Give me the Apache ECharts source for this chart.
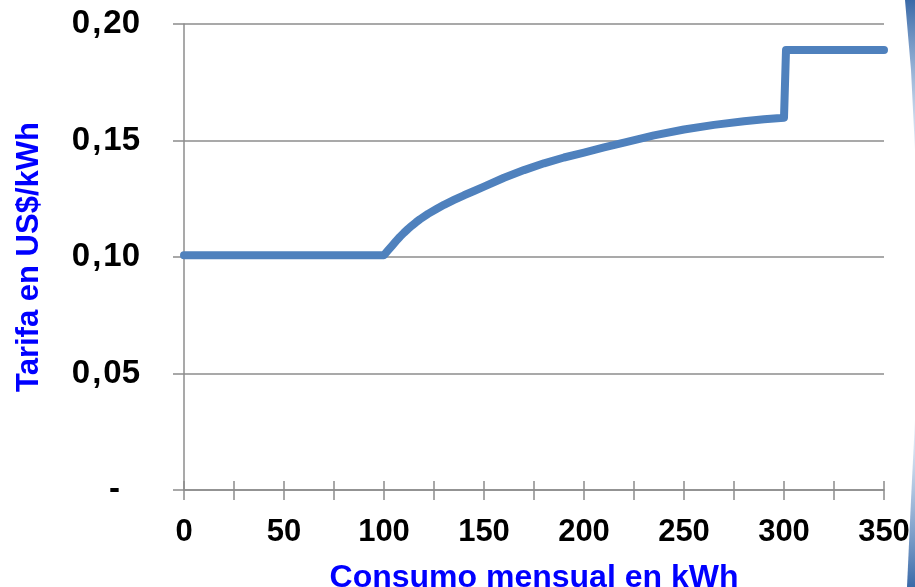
<!DOCTYPE html>
<html>
<head>
<meta charset="utf-8">
<script src="https://cdn.jsdelivr.net/npm/echarts@6/dist/echarts.min.js"></script>
<style>html,body{margin:0;padding:0;background:#fff}#c{width:915px;height:587px}</style>
</head>
<body>
<div id="c"></div>
<script>
// Data
const consumoKWh = [0, 100, 102, 104, 106, 108, 110, 112, 114, 116, 118, 122, 126, 130, 135, 140, 145, 150, 160, 170, 180, 190, 200, 210, 220, 235, 250, 265, 280, 290, 300, 301, 350];
const tarifaUSD  = [0.1008, 0.1008, 0.1028, 0.1048, 0.1068, 0.1087, 0.1104, 0.1120, 0.1135, 0.1149, 0.1162, 0.1185, 0.1205, 0.1224, 0.1245, 0.1265, 0.1283, 0.1302, 0.1340, 0.1373, 0.1402, 0.1427, 0.1448, 0.1470, 0.1491, 0.1522, 0.1547, 0.1567, 0.1583, 0.1591, 0.1598, 0.1888, 0.1888];
const xTitle = 'Consumo mensual en kWh';
const yTitle = 'Tarifa en US$/kWh';

const FONT = '"Liberation Sans", Arial, sans-serif';
const gridColor = '#8c8c8c';

const chart = echarts.init(document.getElementById('c'));
chart.setOption({
  animation: false,
  backgroundColor: '#ffffff',
  grid: { left: 184, right: 31, top: 24, bottom: 97, containLabel: false, outerBoundsMode: 'none' },
  xAxis: [{
    type: 'value', min: 0, max: 350, interval: 25,
    name: xTitle, nameLocation: 'middle', nameGap: 72,
    nameTextStyle: { color: '#0000ff', fontSize: 32, fontWeight: 'bold', fontFamily: FONT },
    axisLine: { show: true, lineStyle: { color: gridColor, width: 1.5 } },
    axisTick: { show: true, inside: false, length: 10, lineStyle: { color: gridColor, width: 1.5 } },
    axisLabel: {
      margin: 27, color: '#000', fontSize: 31, fontWeight: 'bold', fontFamily: FONT,
      formatter: v => (v % 50 === 0 ? String(v) : '')
    },
    splitLine: { show: false }
  }, {
    type: 'value', min: 0, max: 350, interval: 25, position: 'bottom',
    axisLine: { show: false },
    axisTick: { show: true, inside: true, length: 9, lineStyle: { color: gridColor, width: 1.5 } },
    axisLabel: { show: false },
    splitLine: { show: false }
  }],
  yAxis: {
    type: 'value', min: 0, max: 0.2, interval: 0.05,
    name: yTitle, nameLocation: 'middle', nameGap: 139, nameRotate: 90,
    nameTextStyle: { color: '#0000ff', fontSize: 31, fontWeight: 'bold', fontFamily: FONT },
    axisLine: { show: true, lineStyle: { color: gridColor, width: 1.5 } },
    axisTick: { show: true, inside: false, length: 11, lineStyle: { color: gridColor, width: 1.5 } },
    axisLabel: {
      margin: 44, color: '#000', fontSize: 33, fontWeight: 'bold', fontFamily: FONT,
      formatter: v => {
        if (v === 0) return '{d|-}';
        const s = v.toFixed(2).split('.');
        return s[0] + '{c|,}' + s[1];
      },
      rich: {
        d: { fontSize: 33, fontWeight: 'bold', fontFamily: FONT, color: '#000', padding: [0, 20, 0, 0] },
        c: { fontSize: 33, fontWeight: 'bold', fontFamily: FONT, color: '#000', padding: [0, 2, 0, 2] }
      }
    },
    splitLine: { show: true, lineStyle: { color: gridColor, width: 1.5 } }
  },
  series: [{
    type: 'line',
    xAxisIndex: 0,
    data: consumoKWh.map((x, i) => [x, tarifaUSD[i]]),
    showSymbol: false, symbol: 'none',
    lineStyle: { color: '#4f81bd', width: 8, cap: 'round', join: 'round' },
    itemStyle: { color: '#4f81bd' }
  }],
  graphic: [
    {
      type: 'polygon', silent: true,
      shape: { points: [[905, 0], [915, 0], [915, 150], [911, 70]] },
      style: { fill: new echarts.graphic.LinearGradient(0, 0, 0, 1, [
        { offset: 0, color: '#3a6aa8' }, { offset: 1, color: 'rgba(120,160,210,0.2)' }]) }
    },
    {
      type: 'polygon', silent: true,
      shape: { points: [[915, 420], [915, 587], [907, 587], [911, 500]] },
      style: { fill: new echarts.graphic.LinearGradient(0, 0, 0, 1, [
        { offset: 0, color: 'rgba(120,160,210,0.15)' }, { offset: 1, color: '#3a6aa8' }]) }
    }
  ]
});
</script>
</body>
</html>
